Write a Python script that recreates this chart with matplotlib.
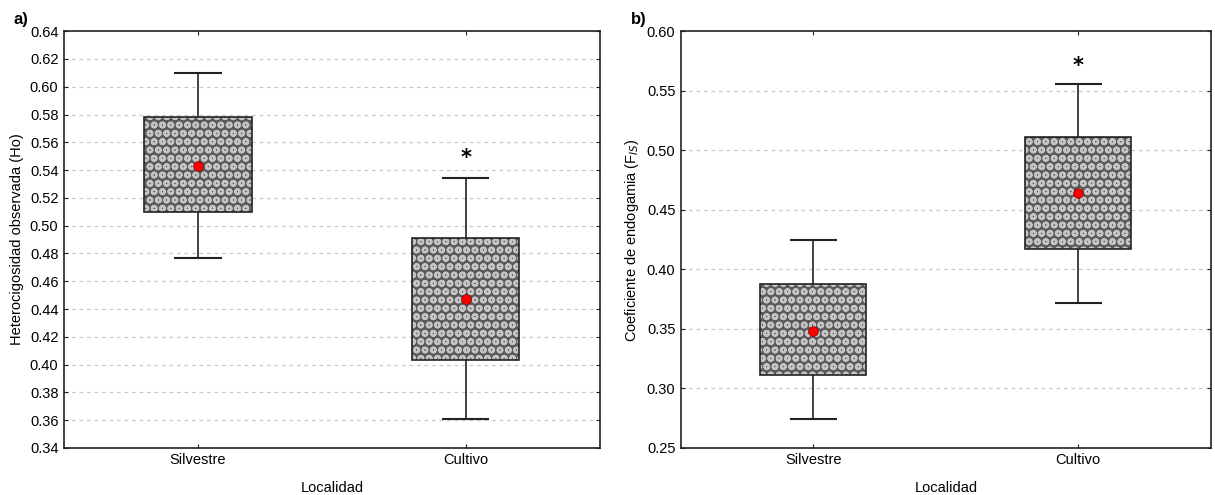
import numpy as np
import matplotlib.pyplot as plt

plt.rcParams['font.family'] = ['Liberation Sans Narrow', 'Liberation Sans', 'DejaVu Sans']
plt.rcParams['hatch.linewidth'] = 0.8

groups = ['Silvestre', 'Cultivo']

# a) observed heterozygosity
ho_mean = [0.543, 0.447]
ho_q1 = [0.510, 0.403]
ho_q3 = [0.578, 0.491]
ho_low = [0.477, 0.361]
ho_high = [0.610, 0.534]
ho_star = [None, 0.549]

# b) inbreeding coefficient
fis_mean = [0.348, 0.464]
fis_q1 = [0.311, 0.417]
fis_q3 = [0.388, 0.511]
fis_low = [0.274, 0.372]
fis_high = [0.425, 0.556]
fis_star = [None, 0.571]


def box_panel(ax, mean, q1, q3, low, high, star, ylim, step, ylabel, tag):
    x = np.arange(len(groups))
    q1 = np.array(q1)
    q3 = np.array(q3)
    ax.vlines(x, low, q1, color='#222222', lw=1.2, zorder=2)
    ax.vlines(x, q3, high, color='#222222', lw=1.2, zorder=2)
    ax.hlines(low, x - 0.088, x + 0.088, color='#222222', lw=1.5, zorder=2)
    ax.hlines(high, x - 0.088, x + 0.088, color='#222222', lw=1.5, zorder=2)
    # patterned fill, then the black outline
    ax.bar(x, q3 - q1, bottom=q1, width=0.4, color='#5a5a5a', edgecolor='#c4c4c4',
           hatch='OOoo', lw=0, zorder=3)
    ax.bar(x, q3 - q1, bottom=q1, width=0.4, fill=False, edgecolor='#222222',
           lw=1.2, zorder=4)
    ax.plot(x, mean, 'o', color='red', mec='#880000', mew=0.5, ms=7, zorder=5)
    for xi, s in zip(x, star):
        if s is not None:
            ax.text(xi, s, '*', ha='center', va='center', fontsize=15,
                    fontweight='bold', family='DejaVu Sans')

    ax.set_xlim(-0.5, 1.5)
    ax.set_ylim(*ylim)
    ticks = np.arange(ylim[0], ylim[1] + step / 2, step)
    ax.set_yticks(ticks)
    ax.set_yticklabels([f'{t:.2f}' for t in ticks])
    ax.set_xticks(x)
    ax.set_xticklabels(groups)
    ax.yaxis.grid(True, color='#c8c8c8', ls=(0, (3, 3)), lw=0.9)
    ax.set_axisbelow(True)
    ax.tick_params(axis='both', labelsize=10.5, length=3, direction='in',
                   right=True, top=True, color='#222222')
    ax.tick_params(axis='y', pad=4)
    for sp in ax.spines.values():
        sp.set_linewidth(1.2)
        sp.set_color('#222222')
    ax.set_xlabel('Localidad', fontsize=10.5, labelpad=10)
    ax.set_ylabel(ylabel, fontsize=10.5, labelpad=4)
    ax.text(-0.095, 1.01, tag, transform=ax.transAxes, fontsize=12,
            fontweight='bold', ha='left', va='bottom',
            family=['Liberation Sans', 'DejaVu Sans'])


fig = plt.figure(figsize=(12.15, 4.95), dpi=100)
ax1 = fig.add_axes([0.0527, 0.095, 0.441, 0.842])
ax2 = fig.add_axes([0.5605, 0.095, 0.436, 0.842])

box_panel(ax1, ho_mean, ho_q1, ho_q3, ho_low, ho_high, ho_star,
          (0.34, 0.64), 0.02, 'Heterocigosidad observada (Ho)', 'a)')
box_panel(ax2, fis_mean, fis_q1, fis_q3, fis_low, fis_high, fis_star,
          (0.25, 0.60), 0.05, 'Coeficiente de endogamia (F$_{IS}$)', 'b)')

fig.savefig('out.png', dpi=100)
